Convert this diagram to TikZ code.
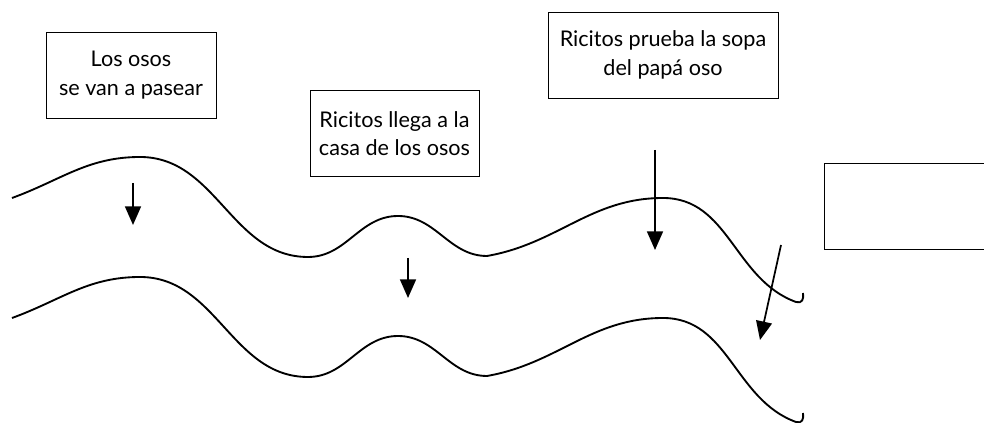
\documentclass[tikz,border=0pt]{standalone}
\usepackage{fontspec}
\setmainfont{Lato}
\usetikzlibrary{arrows.meta}
\tikzset{
  textbox/.style={draw, line width=0.6pt, align=center, minimum height=64.5pt,
    inner sep=0pt, font=\fontsize{16.2}{21.5}\selectfont},
  wave/.style={line width=1.4pt},
  drop/.style={line width=1.3pt, -{Triangle[width=12pt,length=14pt]}}
}
\begin{document}
\begin{tikzpicture}[x=0.75pt, y=0.75pt]
  \useasboundingbox (0,0) rectangle (984,423);
  \clip (0,0) rectangle (984,423);
  % the four scenes
  \node[textbox, minimum width=127.5pt] (walk) at (131,348) {Los osos\\se van a pasear};
  \node[textbox, minimum width=126.75pt] (house) at (394.5,289.5) {Ricitos llega a la\\casa de los osos};
  \node[textbox, minimum width=172.5pt] (soup) at (663,368) {Ricitos prueba la sopa\\del papá oso};
  \node[textbox, minimum width=123pt, anchor=west] (next) at (824,217) {};
  % the two banks of the path
  \foreach \dy in {0,-120}
    \draw[wave, shift={(0,\dy)}] (12,225) to[out=20,in=180] (140,266)
      to[out=0,in=180] (308,166) to[out=0,in=180] (398,207)
      to[out=0,in=180] (487,167) to[out=10,in=180] (663,225)
      to[out=0,in=160] (796,121) .. controls (802,119) and (804,124) .. (803,130);
  % arrows
  \coordinate (a1 top) at (133,240);
  \coordinate (a1 tip) at (133,198);
  \coordinate (a2 top) at (408,165);
  \coordinate (a2 tip) at (408,125);
  \coordinate (a3 top) at (655,273);
  \coordinate (a3 tip) at (655,173);
  \coordinate (a4 top) at (781,178);
  \coordinate (a4 tip) at (760,83);
  \draw[drop] (a1 top) -- (a1 tip);
  \draw[drop] (a2 top) -- (a2 tip);
  \draw[drop] (a3 top) -- (a3 tip);
  \draw[drop] (a4 top) -- (a4 tip);
\end{tikzpicture}
\end{document}
